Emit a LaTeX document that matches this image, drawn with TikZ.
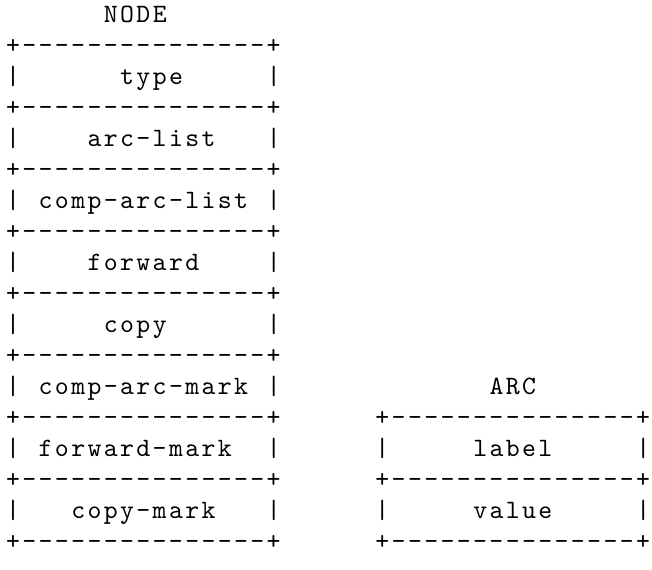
\documentclass[tikz,border=0pt]{standalone}
\usepackage{fontspec}
\newfontfamily\recordfont[LetterSpace=9.0]{Latin Modern Mono}
\begin{document}
\begin{tikzpicture}[x=6pt, y=-11.39pt] % one unit = one character cell / one text row
\tikzstyle{ascii} = [inner sep=0pt, anchor=base west, font=\recordfont\fontsize{9.75}{11}\selectfont] % one line of the record drawing
\useasboundingbox (0,0) rectangle (40,18.39);
% record NODE
\node[ascii] (nodetitle) at (6.34,0.743) {NODE};
\foreach \r in {1,3,...,17} % borders between fields
    \node[ascii] (nrule\r) at (0.34,\r+0.743) {+---------------+};
\foreach \r/\c/\t in {2/7/type, 4/5/arc-list, 6/2/comp-arc-list, 8/5/forward, 10/6/copy, 12/2/comp-arc-mark, 14/2/forward-mark, 16/4/copy-mark}
{
    \node[ascii] (nleft\r) at (0.34,\r+0.743) {|};
    \node[ascii] (nfield\r) at (\c+0.34,\r+0.743) {\t};
    \node[ascii] (nright\r) at (16.34,\r+0.743) {|};
}
% record ARC
\node[ascii] (arctitle) at (30,12.743) {ARC};
\foreach \r in {13,15,17}
    \node[ascii] (arule\r) at (23,\r+0.743) {+---------------+};
\foreach \r/\t in {14/label, 16/value}
{
    \node[ascii] (aleft\r) at (23,\r+0.743) {|};
    \node[ascii] (afield\r) at (29,\r+0.743) {\t};
    \node[ascii] (aright\r) at (39,\r+0.743) {|};
}
\end{tikzpicture}
\end{document}
